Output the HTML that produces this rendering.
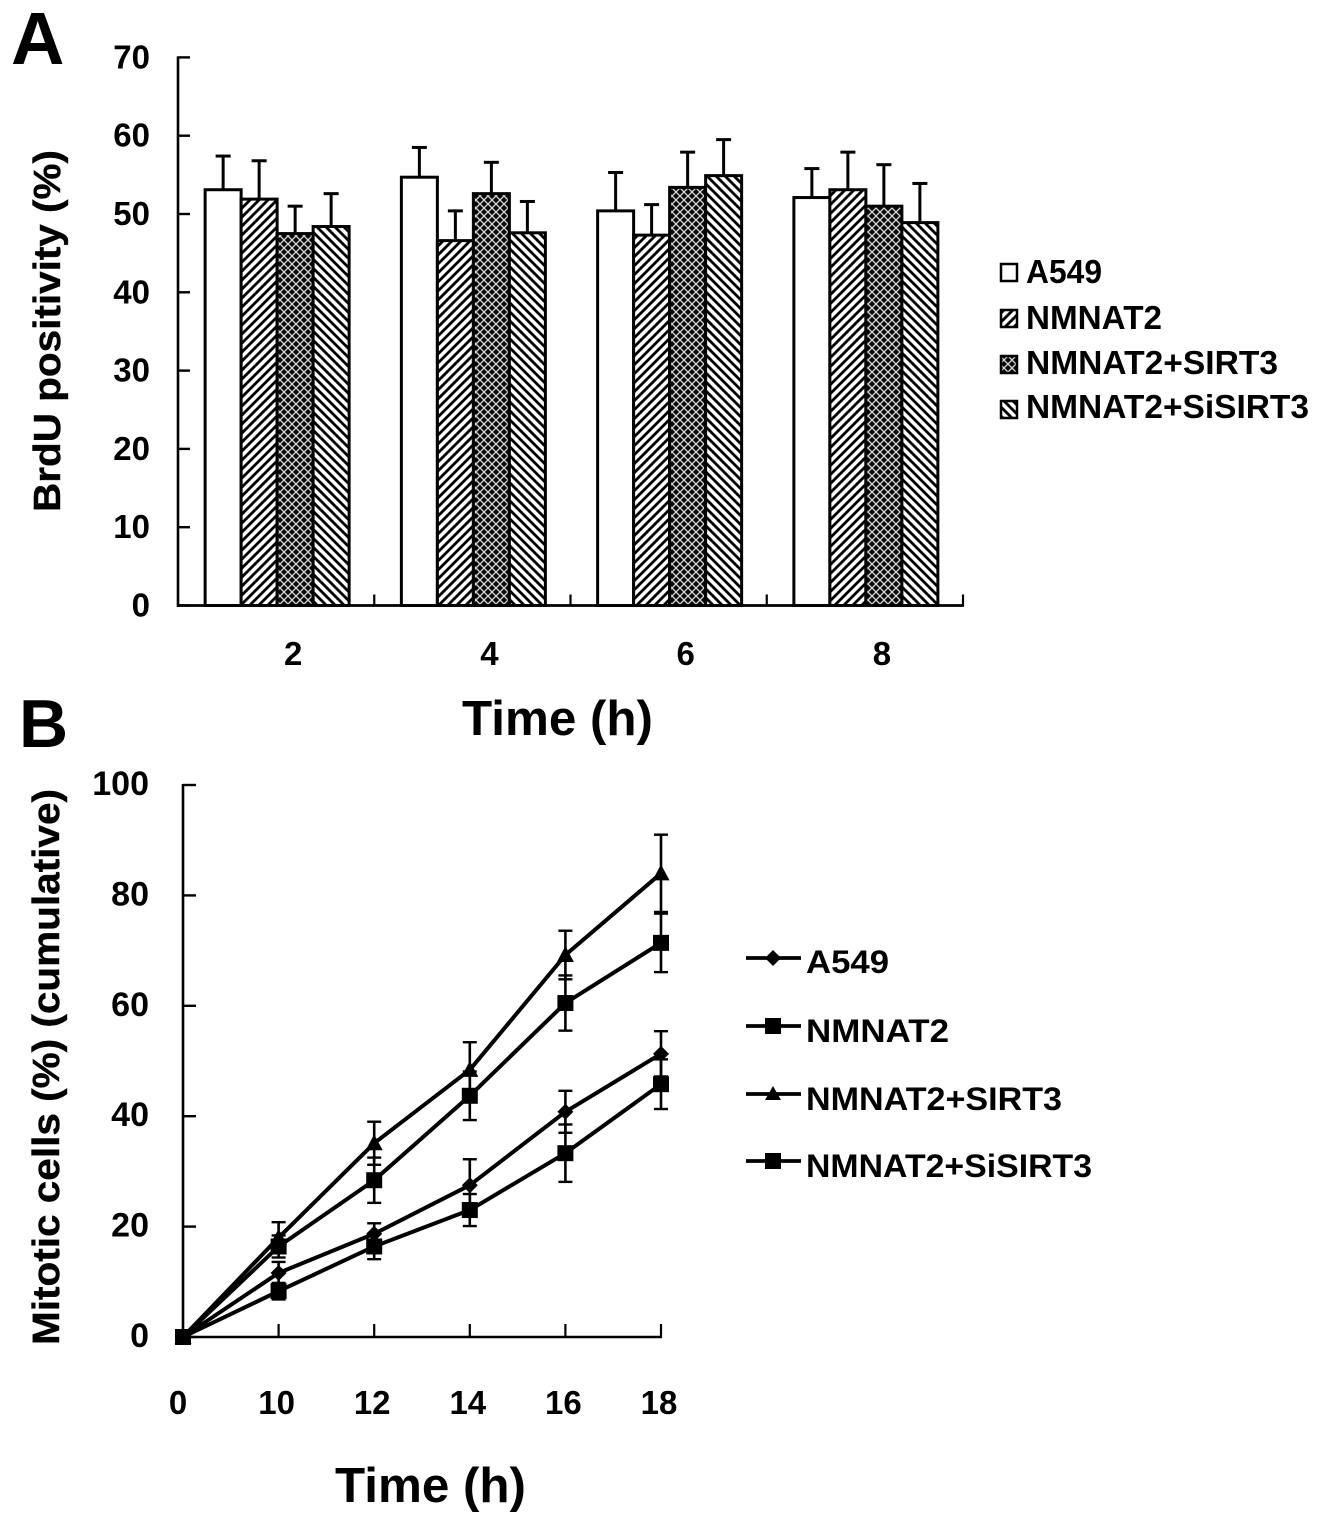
<!DOCTYPE html>
<html lang="en">
<head>
<meta charset="utf-8">
<title>BrdU positivity and mitotic cells</title>
<style>
html,body{margin:0;padding:0;background:#fff;}
svg{display:block;font-family:"Liberation Sans",Arial,sans-serif;font-weight:bold;fill:#000;}
</style>
</head>
<body>
<svg id="fig" xmlns="http://www.w3.org/2000/svg" width="1323" height="1524" viewBox="0 0 1323 1524">
  <defs>
    <pattern id="p-fwd" patternUnits="userSpaceOnUse" width="9" height="9">
      <rect width="9" height="9" fill="#fff"/>
      <path d="M-2,11 L11,-2 M-2,2 L2,-2 M7,11 L11,7" stroke="#000" stroke-width="2.8"/>
    </pattern>
    <pattern id="p-back" patternUnits="userSpaceOnUse" width="9" height="9">
      <rect width="9" height="9" fill="#fff"/>
      <path d="M-2,-2 L11,11 M-2,7 L2,11 M7,-2 L11,2" stroke="#000" stroke-width="2.8"/>
    </pattern>
    <pattern id="p-cross" patternUnits="userSpaceOnUse" width="8" height="8">
      <rect width="8" height="8" fill="#0a0a0a"/>
      <path d="M0,4 L4,0 L8,4 L4,8 Z" fill="none" stroke="#d8d8d8" stroke-width="1.25"/>
    </pattern>
  </defs>

  <text x="11" y="64" font-size="74">A</text>
  <text x="19" y="747" font-size="68">B</text>

  <g id="chartA"></g>
  <text transform="translate(60,331) rotate(-90)" text-anchor="middle" font-size="38" stroke="#000" stroke-width="0.4" textLength="362" lengthAdjust="spacingAndGlyphs">BrdU positivity (%)</text>
  <text x="462" y="735" font-size="49" textLength="191" lengthAdjust="spacingAndGlyphs">Time (h)</text>

  <g font-size="33">
    <g>
      <rect x="1001" y="264" width="16" height="17" fill="#fff" stroke="#000" stroke-width="2.5"/>
      <text x="1026" y="283" textLength="76" lengthAdjust="spacingAndGlyphs">A549</text>
    </g>
    <g>
      <rect x="1001" y="310" width="16" height="17" fill="url(#p-fwd)" stroke="#000" stroke-width="2.5"/>
      <text x="1026" y="329" textLength="136" lengthAdjust="spacingAndGlyphs">NMNAT2</text>
    </g>
    <g>
      <rect x="1001" y="356" width="16" height="17" fill="url(#p-cross)" stroke="#000" stroke-width="2.5"/>
      <text x="1026" y="374" textLength="252" lengthAdjust="spacingAndGlyphs">NMNAT2+SIRT3</text>
    </g>
    <g>
      <rect x="1001" y="401" width="16" height="17" fill="url(#p-back)" stroke="#000" stroke-width="2.5"/>
      <text x="1026" y="418" textLength="283" lengthAdjust="spacingAndGlyphs">NMNAT2+SiSIRT3</text>
    </g>
  </g>

  <g id="chartB"></g>
  <text transform="translate(59,1067) rotate(-90)" text-anchor="middle" font-size="38" stroke="#000" stroke-width="0.4" textLength="556" lengthAdjust="spacingAndGlyphs">Mitotic cells (%) (cumulative)</text>
  <text x="335" y="1502" font-size="49" textLength="191" lengthAdjust="spacingAndGlyphs">Time (h)</text>

  <g font-size="32" stroke-linecap="butt">
    <g>
      <line x1="746" x2="801" y1="958" y2="958" stroke="#000" stroke-width="3.8"/>
      <path d="M773,950 L781,958 L773,966 L765,958 Z"/>
      <text x="806" y="973" textLength="83" lengthAdjust="spacingAndGlyphs">A549</text>
    </g>
    <g>
      <line x1="746" x2="801" y1="1026" y2="1026" stroke="#000" stroke-width="3.8"/>
      <rect x="765" y="1018" width="16" height="16"/>
      <text x="806" y="1042" textLength="143" lengthAdjust="spacingAndGlyphs">NMNAT2</text>
    </g>
    <g>
      <line x1="746" x2="801" y1="1094" y2="1094" stroke="#000" stroke-width="3.8"/>
      <path d="M773,1086 L781,1100 L765,1100 Z"/>
      <text x="806" y="1110" textLength="256" lengthAdjust="spacingAndGlyphs">NMNAT2+SIRT3</text>
    </g>
    <g>
      <line x1="746" x2="801" y1="1161" y2="1161" stroke="#000" stroke-width="3.8"/>
      <rect x="765" y="1153" width="16" height="16"/>
      <text x="806" y="1177" textLength="286" lengthAdjust="spacingAndGlyphs">NMNAT2+SiSIRT3</text>
    </g>
  </g>
</svg>

<script>
// ---- Chart A data ----
const barCategories = ['2', '4', '6', '8'];
const barTicks = [0, 10, 20, 30, 40, 50, 60, 70];
const barA549 = [53.1, 54.7, 50.4, 52.1];
const barNmnat2 = [51.9, 46.6, 47.3, 53.1];
const barSirt3 = [47.5, 52.6, 53.4, 51.0];
const barSiSirt3 = [48.4, 47.6, 54.9, 48.9];
const barErrA549 = [4.3, 3.8, 4.9, 3.7];
const barErrNmnat2 = [4.9, 3.8, 3.9, 4.8];
const barErrSirt3 = [3.5, 4.0, 4.5, 5.3];
const barErrSiSirt3 = [4.2, 4.0, 4.6, 5.0];

// ---- Chart B data ----
const lineCategories = ['0', '10', '12', '14', '16', '18'];
const lineTicks = [0, 20, 40, 60, 80, 100];
const lineA549 = [0, 11.6, 18.7, 27.5, 40.8, 51.3];
const lineNmnat2 = [0, 16.4, 28.4, 43.7, 60.5, 71.4];
const lineSirt3 = [0, 18, 35.1, 48.4, 69.2, 84];
const lineSiSirt3 = [0, 8.3, 16.4, 23, 33.3, 45.8];
const lineErrA549 = [0, 2, 1.9, 4.7, 3.8, 4.1];
const lineErrNmnat2 = [0, 2, 4.1, 4.4, 5, 5.3];
const lineErrSirt3 = [0, 2.8, 3.9, 5, 4.4, 7];
const lineErrSiSirt3 = [0, 1.5, 2.3, 2.9, 5.2, 4.5];

const NS = 'http://www.w3.org/2000/svg';
function make(parent, tag, attrs) {
  const el = document.createElementNS(NS, tag);
  for (const k in attrs) el.setAttribute(k, attrs[k]);
  parent.appendChild(el);
  return el;
}

// ---- Chart A ----
(function () {
  const g = document.getElementById('chartA');
  const y = v => 605.5 - v * 7.83;
  const band = 196.25;
  const barW = 36;
  const center = i => 179 + (i + 0.5) * band;
  const barSeries = [
    { key: 'a549', values: barA549, errs: barErrA549, fill: '#fff' },
    { key: 'nmnat2', values: barNmnat2, errs: barErrNmnat2, fill: 'url(#p-fwd)' },
    { key: 'sirt3', values: barSirt3, errs: barErrSirt3, fill: 'url(#p-cross)' },
    { key: 'sisirt3', values: barSiSirt3, errs: barErrSiSirt3, fill: 'url(#p-back)' }
  ];

  barSeries.forEach((s, si) => {
    s.values.forEach((v, i) => {
      const x = center(i) + (si - 2) * barW;
      const top = y(v);
      const errTop = y(v + s.errs[i]);
      const cx = x + barW / 2;

      const stem = make(g, 'line', { x1: cx, x2: cx, y1: top, y2: errTop, stroke: '#000', 'stroke-width': 3 });
      
      

      const cap = make(g, 'line', { x1: cx - 7.5, x2: cx + 7.5, y1: errTop, y2: errTop, stroke: '#000', 'stroke-width': 3 });
      
      

      const bar = make(g, 'rect', { x: x, y: top, width: barW, height: y(0) - top, fill: s.fill, stroke: '#000', 'stroke-width': 3 });
      
      
    });
  });

  const yAxis = make(g, 'line', { x1: 178, x2: 178, y1: y(70) - 1, y2: y(0) + 1.5, stroke: '#000', 'stroke-width': 2.6 });
  
  

  const xAxis = make(g, 'line', { x1: 177, x2: 964, y1: y(0), y2: y(0), stroke: '#000', 'stroke-width': 2.8 });
  
  

  barTicks.forEach(t => {
    const tick = make(g, 'line', { x1: 178, x2: 190, y1: y(t), y2: y(t), stroke: '#000', 'stroke-width': 2.4 });
    
    

    const label = make(g, 'text', { x: 150, y: y(t) + 11, 'text-anchor': 'end', 'font-size': 33 });
    
    
    label.textContent = t;
  });

  barCategories.forEach((c, i) => {
    const tick = make(g, 'line', { x1: 178 + (i + 1) * band, x2: 178 + (i + 1) * band, y1: y(0), y2: y(0) - 11, stroke: '#000', 'stroke-width': 2.2 });
    
    

    const label = make(g, 'text', { x: center(i) + 16, y: 665, 'text-anchor': 'middle', 'font-size': 33 });
    
    
    label.textContent = c;
  });
})();

// ---- Chart B ----
(function () {
  const g = document.getElementById('chartB');
  const y = v => 1337 - v * 5.52;
  const x = i => 183 + i * 95.6;
  const lineSeries = [
    { key: 'a549', values: lineA549, errs: lineErrA549, marker: 'diamond' },
    { key: 'nmnat2', values: lineNmnat2, errs: lineErrNmnat2, marker: 'square' },
    { key: 'sirt3', values: lineSirt3, errs: lineErrSirt3, marker: 'triangle' },
    { key: 'sisirt3', values: lineSiSirt3, errs: lineErrSiSirt3, marker: 'square' }
  ];

  const yAxis = make(g, 'line', { x1: 183, x2: 183, y1: y(100) - 1, y2: y(0) + 1, stroke: '#000', 'stroke-width': 2.6 });
  
  

  const xAxis = make(g, 'line', { x1: 182, x2: x(lineCategories.length - 1) + 1, y1: y(0), y2: y(0), stroke: '#000', 'stroke-width': 2.6 });
  
  

  lineTicks.forEach(t => {
    const tick = make(g, 'line', { x1: 183, x2: 196, y1: y(t), y2: y(t), stroke: '#000', 'stroke-width': 2.4 });
    
    

    const label = make(g, 'text', { x: 149, y: y(t) + 10, 'text-anchor': 'end', 'font-size': 34 });
    
    
    label.textContent = t;
  });

  lineCategories.forEach((c, i) => {
    if (i > 0) {
      const tick = make(g, 'line', { x1: x(i), x2: x(i), y1: y(0), y2: y(0) - 13, stroke: '#000', 'stroke-width': 2.2 });
      
      
    }
    const label = make(g, 'text', { x: x(i) - (i === 0 ? 5 : 2), y: 1414, 'text-anchor': 'middle', 'font-size': 33 });
    
    
    label.textContent = c;
  });

  lineSeries.forEach(s => {
    s.values.forEach((v, i) => {
      if (!s.errs[i]) return;
      const hi = y(v + s.errs[i]);
      const lo = y(v - s.errs[i]);
      const stem = make(g, 'line', { x1: x(i), x2: x(i), y1: hi, y2: lo, stroke: '#000', 'stroke-width': 2.6 });
      
      

      const capHi = make(g, 'line', { x1: x(i) - 7, x2: x(i) + 7, y1: hi, y2: hi, stroke: '#000', 'stroke-width': 2.4 });
      
      

      const capLo = make(g, 'line', { x1: x(i) - 7, x2: x(i) + 7, y1: lo, y2: lo, stroke: '#000', 'stroke-width': 2.4 });
      
      
    });
  });

  lineSeries.forEach(s => {
    const pts = s.values.map((v, i) => x(i) + ',' + y(v)).join(' ');
    const line = make(g, 'polyline', { points: pts, fill: 'none', stroke: '#000', 'stroke-width': 4, 'stroke-linejoin': 'round' });
    
    

    s.values.forEach((v, i) => {
      const cx = x(i), cy = y(v);
      let m;
      if (s.marker === 'square') {
        m = make(g, 'rect', { x: cx - 8, y: cy - 8, width: 16, height: 16 });
      } else if (s.marker === 'triangle') {
        m = make(g, 'path', { d: `M${cx},${cy - 9} L${cx + 8.5},${cy + 7} L${cx - 8.5},${cy + 7} Z` });
      } else {
        m = make(g, 'path', { d: `M${cx},${cy - 8} L${cx + 8},${cy} L${cx},${cy + 8} L${cx - 8},${cy} Z` });
      }
      
      
    });
  });
})();
</script>
</body>
</html>
